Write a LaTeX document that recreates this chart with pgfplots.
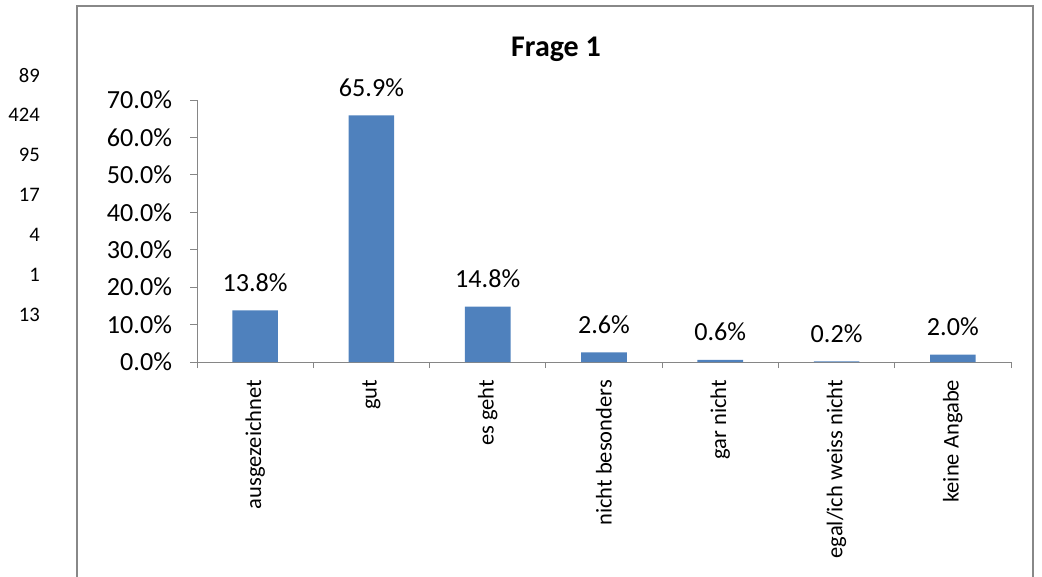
\documentclass[border=0pt]{standalone}
\usepackage{fontspec}
\setmainfont{Carlito}
\usepackage{pgfplots}
\pgfplotsset{compat=1.18}
\definecolor{barblue}{HTML}{4F81BD}
\definecolor{axgray}{HTML}{868686}
\definecolor{framegray}{HTML}{888888}
\begin{document}
\begin{tikzpicture}[x=0.75pt,y=0.75pt]
\path[use as bounding box] (0,0) rectangle (1042,576);
% spreadsheet cells
\foreach \v/\yy in {89/500,424/461,95/421,17/381,4/341,1/301,13/261}
  \node[anchor=east,inner sep=0pt,font=\fontsize{15.5pt}{18pt}\selectfont] at (40,\yy) {\v};
% chart frame
\draw[framegray,line width=1.5pt] (77,-2) -- (77,569.5) -- (1033,569.5) -- (1033,-2);
% title
\node[font=\fontsize{22.5pt}{25pt}\selectfont\bfseries] at (556,526.5) {Frage 1};
\begin{axis}[
  at={(147.75pt,160.5pt)}, anchor=south west,
  scale only axis, width=610.5pt, height=196.5pt,
  xmin=-0.5, xmax=6.5, ymin=0, ymax=70,
  axis x line=bottom, axis y line=left,
  axis line style={draw=axgray,line width=0.75pt,-},
  clip=false,
  /pgf/number format/assume math mode=true,
  ytick={0,10,...,70},
  yticklabel={\pgfmathprintnumber[fixed,fixed zerofill,precision=1]{\tick}\%},
  yticklabel style={font=\fontsize{19.6pt}{22pt}\selectfont, text=black, xshift=-10pt},
  xtick={0,...,6},
  xticklabels={ausgezeichnet,gut,es geht,nicht besonders,gar nicht,egal/ich weiss nicht,keine Angabe},
  xticklabel style={rotate=90, anchor=east, inner sep=0pt, xshift=-8pt, font=\fontsize{16.9pt}{19pt}\selectfont, text=black},
  minor xtick={-0.5,0.5,...,6.5},
  tick align=outside,
  major tick length=5.25pt,
  minor tick length=4.5pt,
  major x tick style={draw=none},
  every tick/.style={draw=axgray,line width=0.75pt},
  minor x tick style={draw=axgray,line width=0.75pt},
  ytick style={draw=axgray,line width=0.75pt},
  nodes near coords={\pgfmathprintnumber[fixed,fixed zerofill,precision=1]{\pgfplotspointmeta}\%},
  nodes near coords style={anchor=base, inner sep=0pt, yshift=14.25pt, font=\fontsize{19.6pt}{22pt}\selectfont, text=black},
]
\addplot[ybar, bar width=34.2pt, fill=barblue, draw=none] coordinates {
  (0,13.8) (1,65.9) (2,14.8) (3,2.6) (4,0.6) (5,0.2) (6,2.0)
};
\end{axis}
\end{tikzpicture}
\end{document}
